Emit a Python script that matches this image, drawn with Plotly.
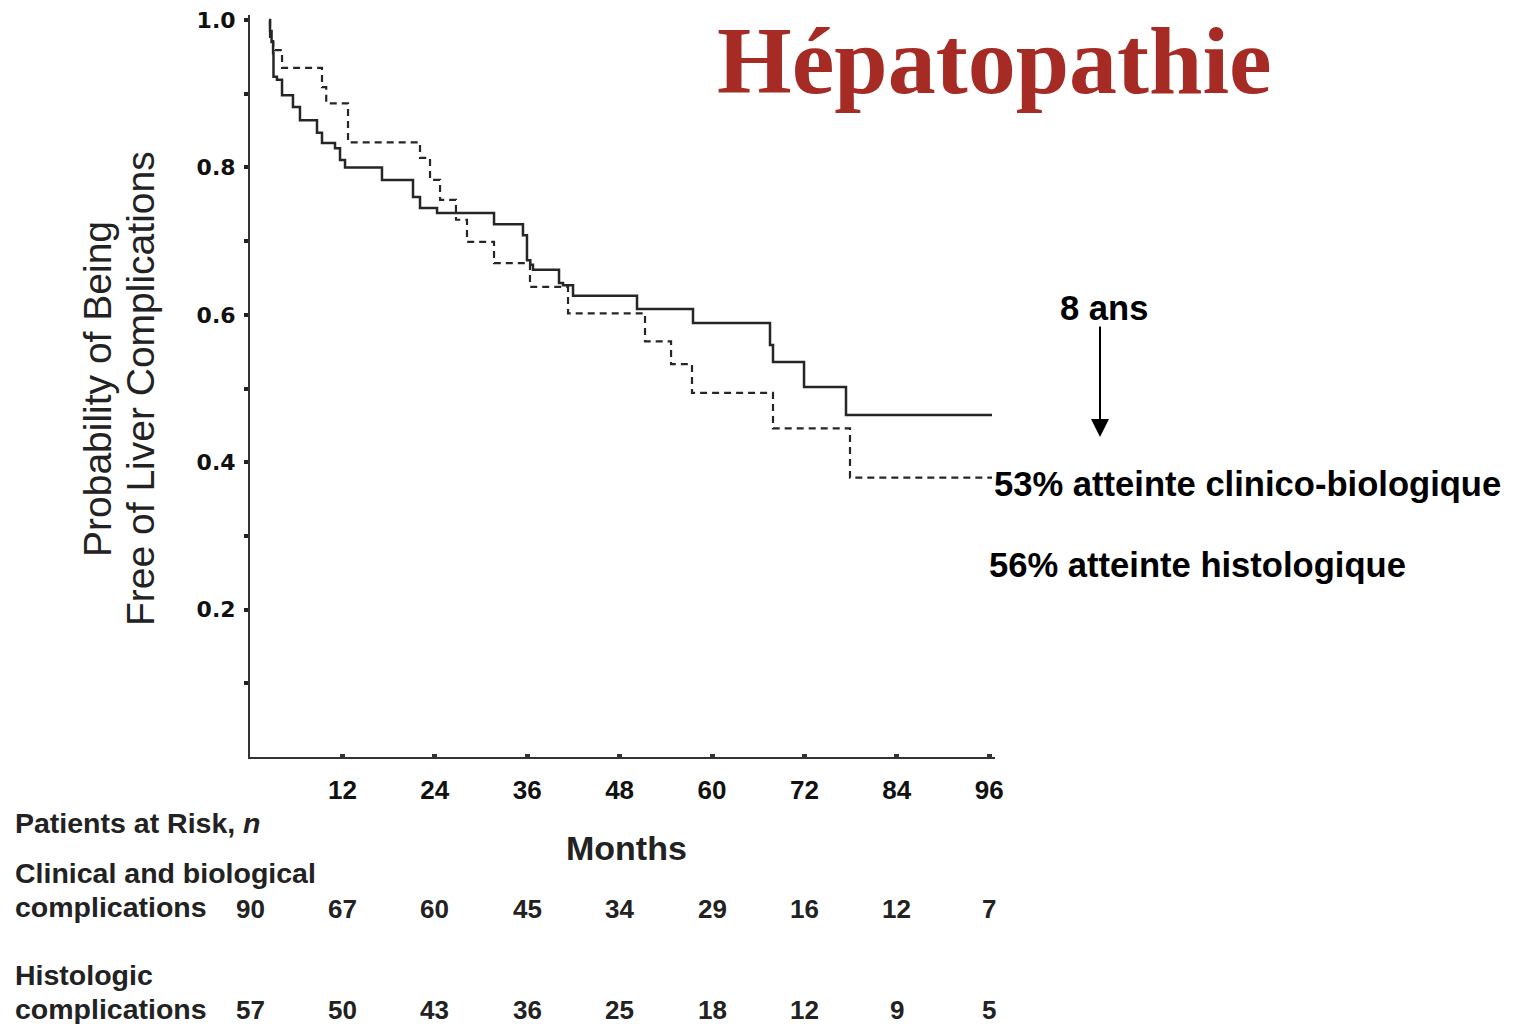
import plotly.graph_objects as go

# ---------------- data ----------------
# Clinical and biological complications (solid)
solid_months = [2.47, 2.6, 2.8, 3.0, 3.05, 3.5, 4.16, 5.58, 6.49, 8.7, 9.35, 11.04, 11.69,
                12.34, 17.14, 21.17, 22.08, 24.29, 31.69, 35.45, 35.97, 36.4, 36.75, 40.13,
                40.65, 41.95, 50.26, 57.53, 67.53, 67.92, 71.95, 77.4, 96.36]
solid_surv = [1.0, 0.985, 0.97, 0.955, 0.923, 0.919, 0.898, 0.882, 0.864, 0.847, 0.833, 0.826,
              0.81, 0.80, 0.783, 0.76, 0.745, 0.738, 0.723, 0.708, 0.674, 0.668, 0.661, 0.643,
              0.640, 0.626, 0.608, 0.589, 0.559, 0.536, 0.502, 0.464, 0.464]

# Histologic complications (dashed)
dash_months = [2.47, 2.6, 3.0, 3.25, 4.16, 9.35, 9.9, 12.73, 22.08, 23.38, 24.68, 26.75, 28.18,
               31.69, 36.36, 41.3, 51.3, 54.68, 57.4, 67.92, 77.92, 96.36]
dash_surv = [1.0, 0.975, 0.962, 0.959, 0.935, 0.909, 0.887, 0.834, 0.813, 0.783, 0.756, 0.729,
             0.699, 0.670, 0.638, 0.602, 0.564, 0.533, 0.494, 0.446, 0.379, 0.379]

x_ticks = [12, 24, 36, 48, 60, 72, 84, 96]
y_ticks = [0.2, 0.4, 0.6, 0.8, 1.0]
y_tick_text = ["0.2", "0.4", "0.6", "0.8", "1.0"]
y_minor = [0.1, 0.3, 0.5, 0.7, 0.9]

risk_months = [0, 12, 24, 36, 48, 60, 72, 84, 96]
risk_clinical = [90, 67, 60, 45, 34, 29, 16, 12, 7]
risk_histologic = [57, 50, 43, 36, 25, 18, 12, 9, 5]

# ---------------- layout helpers ----------------
# the page body has an 8px margin, so figure pixel = page pixel - OFF
OFF = 8
W, H = 1513, 1024
PLOT_L, PLOT_R, PLOT_T, PLOT_B = 250, 995, 15, 757   # page pixels of the plot area
L, T = PLOT_L - OFF, PLOT_T - OFF
R, B = W - (PLOT_R - OFF), H - (PLOT_B - OFF)
PW, PH = PLOT_R - PLOT_L, PLOT_B - PLOT_T


def px(x):
    return (x - PLOT_L) / PW


def py(y):
    return (PLOT_B - y) / PH


SANS = "Liberation Sans, Arial, sans-serif"
LINE = "#262626"

fig = go.Figure()
fig.add_trace(go.Scatter(x=solid_months, y=solid_surv, mode="lines", line_shape="hv",
                         line=dict(color=LINE, width=2.5), showlegend=False, hoverinfo="skip"))
fig.add_trace(go.Scatter(x=dash_months, y=dash_surv, mode="lines", line_shape="hv",
                         line=dict(color=LINE, width=2.2, dash="7px,5px"),
                         showlegend=False, hoverinfo="skip"))

ann = []
# title
ann.append(dict(text="<b>Hépatopathie</b>", x=px(994), y=py(60), xref="paper", yref="paper",
                showarrow=False, xanchor="center", yanchor="middle",
                font=dict(family="Liberation Serif, Times New Roman, serif", size=96,
                          color="#A62B24")))
# y axis title (two lines)
for txt, xc in [("Probability of Being", 97), ("Free of Liver Complications", 140)]:
    ann.append(dict(text=txt, textangle=-90, x=px(xc), y=py(389), xref="paper",
                    yref="paper", showarrow=False, xanchor="center", yanchor="middle",
                    font=dict(family=SANS, size=39, color="#222")))
# Months
ann.append(dict(text="<b>Months</b>", x=px(626), y=py(848), xref="paper", yref="paper",
                showarrow=False, xanchor="center", yanchor="middle",
                font=dict(family=SANS, size=34, color="#222")))
# right side notes
ann.append(dict(text="<b>8 ans</b>", x=px(1104), y=py(308), xref="paper", yref="paper",
                showarrow=False, xanchor="center", yanchor="middle",
                font=dict(family=SANS, size=34.6, color="black")))
ann.append(dict(text="", x=px(1100), y=py(437), xref="paper", yref="paper",
                showarrow=True, ax=0, ay=-112, arrowhead=2, arrowsize=1.8, arrowwidth=2,
                arrowcolor="black"))
ann.append(dict(text="<b>53% atteinte clinico-biologique</b>", x=px(992), y=py(484),
                xref="paper", yref="paper", showarrow=False, xanchor="left", yanchor="middle",
                font=dict(family=SANS, size=34.6, color="black")))
ann.append(dict(text="<b>56% atteinte histologique</b>", x=px(987), y=py(565),
                xref="paper", yref="paper", showarrow=False, xanchor="left", yanchor="middle",
                font=dict(family=SANS, size=34.6, color="black")))
# risk table labels
tfont = dict(family=SANS, size=28.5, color="#222")
nfont = dict(family=SANS, size=26, color="#222")
for txt, yy in [("<b>Patients at Risk, <i>n</i></b>", 823),
                ("<b>Clinical and biological</b>", 873),
                ("<b>complications</b>", 907),
                ("<b>Histologic</b>", 975),
                ("<b>complications</b>", 1009)]:
    ann.append(dict(text=txt, x=px(13), y=py(yy), xref="paper", yref="paper", showarrow=False,
                    xanchor="left", yanchor="middle", font=tfont))
for m, n1, n2 in zip(risk_months, risk_clinical, risk_histologic):
    ann.append(dict(text=f"<b>{n1}</b>", x=m, y=py(909), xref="x", yref="paper",
                    showarrow=False, xanchor="center", yanchor="middle", font=nfont))
    ann.append(dict(text=f"<b>{n2}</b>", x=m, y=py(1010), xref="x", yref="paper",
                    showarrow=False, xanchor="center", yanchor="middle", font=nfont))

fig.update_layout(
    width=W, height=H, margin=dict(l=L, r=R, t=T, b=B, autoexpand=False),
    paper_bgcolor="white", plot_bgcolor="white", annotations=ann,
    xaxis=dict(range=[0, 96.75], tickvals=x_ticks, ticktext=[str(v) for v in x_ticks],
               showgrid=False, zeroline=False, showline=True, linecolor="#333", linewidth=2,
               ticks="inside", ticklen=3, tickwidth=5, tickcolor="#333",
               ticklabelstandoff=9, ticklabeloverflow="allow",
               tickfont=dict(family=SANS, size=26, color="#111", weight="bold")),
    yaxis=dict(range=[0, (PLOT_B - PLOT_T) / (PLOT_B - 20)], tickvals=y_ticks,
               ticktext=y_tick_text,
               showgrid=False, zeroline=False, showline=True, linecolor="#333", linewidth=2,
               ticks="outside", ticklen=4, tickwidth=4, tickcolor="#222",
               ticklabelstandoff=4, ticklabeloverflow="allow",
               minor=dict(tickvals=y_minor, ticks="outside", ticklen=4, tickwidth=4,
                          tickcolor="#222"),
               tickfont=dict(family="DejaVu Sans, sans-serif", size=22, color="#111",
                             weight="bold")),
)

fig.write_html("out.html")
